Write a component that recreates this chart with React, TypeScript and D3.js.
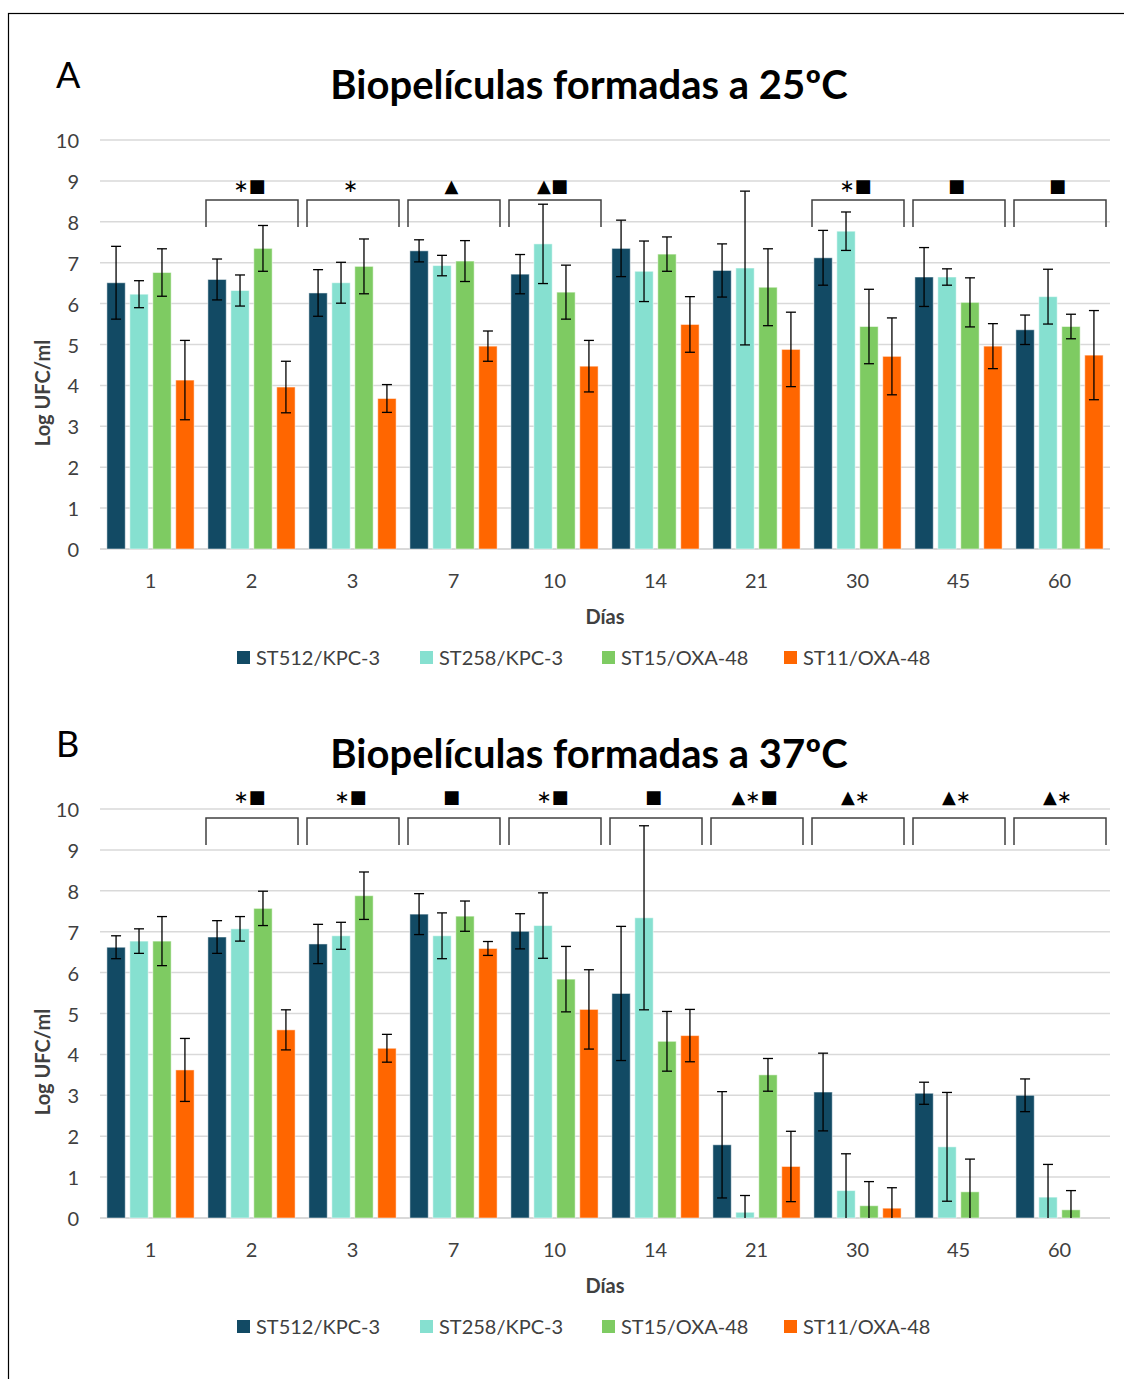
import React from "react";
import * as d3 from "d3";

const days = ["1", "2", "3", "7", "10", "14", "21", "30", "45", "60"];
const seriesNames = ["ST512/KPC-3", "ST258/KPC-3", "ST15/OXA-48", "ST11/OXA-48"];
const seriesColors = ["#124A64", "#86E0D0", "#7ECB62", "#FF6600"];
const yTicks = [0, 1, 2, 3, 4, 5, 6, 7, 8, 9, 10];

// Panel A (25ºC)
const a512 = [6.51, 6.59, 6.26, 7.29, 6.72, 7.35, 6.81, 7.12, 6.65, 5.36];
const a258 = [6.23, 6.32, 6.51, 6.93, 7.46, 6.79, 6.87, 7.77, 6.65, 6.17];
const a15 = [6.76, 7.35, 6.91, 7.04, 6.28, 7.21, 6.40, 5.44, 6.03, 5.44];
const a11 = [4.13, 3.96, 3.68, 4.96, 4.47, 5.49, 4.88, 4.71, 4.96, 4.74];
const aErr512 = [0.89, 0.5, 0.57, 0.27, 0.48, 0.69, 0.65, 0.67, 0.72, 0.36];
const aErr258 = [0.33, 0.38, 0.5, 0.25, 0.97, 0.74, 1.88, 0.47, 0.2, 0.67];
const aErr15 = [0.58, 0.56, 0.67, 0.5, 0.66, 0.42, 0.94, 0.91, 0.6, 0.3];
const aErr11 = [0.97, 0.63, 0.34, 0.37, 0.63, 0.68, 0.91, 0.94, 0.55, 1.09];
const aMarks = ["", "∗■", "∗", "▲", "▲■", "", "", "∗■", "■", "■"];

// Panel B (37ºC)
const b512 = [6.62, 6.87, 6.70, 7.43, 7.01, 5.49, 1.79, 3.08, 3.05, 3.00];
const b258 = [6.77, 7.07, 6.90, 6.90, 7.15, 7.34, 0.14, 0.67, 1.74, 0.51];
const b15 = [6.77, 7.57, 7.88, 7.38, 5.84, 4.32, 3.50, 0.30, 0.64, 0.20];
const b11 = [3.62, 4.60, 4.15, 6.59, 5.10, 4.46, 1.26, 0.24, 0, 0];
const bErr512 = [0.28, 0.4, 0.48, 0.5, 0.43, 1.64, 1.3, 0.95, 0.27, 0.4];
const bErr258 = [0.3, 0.3, 0.33, 0.56, 0.8, 2.25, 0.41, 0.9, 1.33, 0.8];
const bErr15 = [0.6, 0.42, 0.58, 0.37, 0.8, 0.73, 0.4, 0.59, 0.8, 0.47];
const bErr11 = [0.77, 0.49, 0.34, 0.17, 0.97, 0.64, 0.86, 0.5, 0, 0];
const bMarks = ["", "∗■", "∗■", "■", "∗■", "■", "▲∗■", "▲∗", "▲∗", "▲∗"];

const FONT = "Lato, 'Open Sans', sans-serif";
const TXT = "#404040";

type PanelProps = {
  dy: number;
  letter: string;
  title: string;
  values: number[][];
  errs: number[][];
  marks: string[];
  bracketTop: number;
  markY: number;
};

function Panel({ dy, letter, title, values, errs, marks, bracketTop, markY }: PanelProps) {
  const x0 = d3.scaleBand<string>().domain(days).range([100, 1110]);
  const x1 = d3
    .scaleBand<string>()
    .domain(seriesNames)
    .range([0, x0.bandwidth()])
    .paddingInner(0.2)
    .paddingOuter(0.3);
  const y = d3.scaleLinear().domain([0, 10]).range([549, 140]);
  const legendX = [237, 420, 602, 784];

  return (
    <g transform={`translate(0,${dy})`}>
      <text x={56} y={88} fontFamily={FONT} fontSize={36} fill="#000">
        {letter}
      </text>
      <text x={589} y={99} textAnchor="middle" fontFamily={FONT} fontWeight="bold" fontSize={40} fill="#000">
        {title}
      </text>
      {yTicks.map((t) => (
        <g key={t}>
          <line x1={100} x2={1110} y1={y(t)} y2={y(t)} stroke="#D9D9D9" strokeWidth={t === 0 ? 2 : 1.5} />
          <text x={79} y={y(t)} textAnchor="end" dominantBaseline="central" fontFamily={FONT} fontSize={20} fill={TXT}>
            {t}
          </text>
        </g>
      ))}
      {days.map((d, i) => (
        <g key={d}>
          {seriesNames.map((s, j) => {
            const v = values[j][i];
            const e = errs[j][i];
            const bx = (x0(d) as number) + (x1(s) as number);
            const bw = x1.bandwidth();
            const cx = bx + bw / 2;
            return (
              <g key={s}>
                {v > 0 && (
                  <rect
                    x={bx}
                    y={y(v)}
                    width={bw}
                    height={y(0) - y(v)}
                    fill={seriesColors[j]}
                    stroke="#fff"
                    strokeOpacity={0.5}
                    strokeWidth={1}
                  />
                )}
                {e > 0 && (
                  <g stroke="#000" strokeWidth={1.3}>
                    <line x1={cx} x2={cx} y1={y(v + e)} y2={y(Math.max(0, v - e))} />
                    <line x1={cx - 5} x2={cx + 5} y1={y(v + e)} y2={y(v + e)} />
                    {v - e > 0 && <line x1={cx - 5} x2={cx + 5} y1={y(v - e)} y2={y(v - e)} />}
                  </g>
                )}
              </g>
            );
          })}
          <text
            x={(x0(d) as number) + x0.bandwidth() / 2}
            y={580}
            textAnchor="middle"
            dominantBaseline="central"
            fontFamily={FONT}
            fontSize={20}
            fill={TXT}
          >
            {d}
          </text>
          {marks[i] && (
            <g>
              <path
                d={`M${(x0(d) as number) + 5},${bracketTop + 27}V${bracketTop}H${(x0(d) as number) + x0.bandwidth() - 4}V${bracketTop + 27}`}
                fill="none"
                stroke="#404040"
                strokeWidth={1.5}
              />
              <text
                x={(x0(d) as number) + x0.bandwidth() / 2 - 2}
                y={markY}
                textAnchor="middle"
                dominantBaseline="central"
                fontFamily="'DejaVu Sans', sans-serif"
                fontSize={18}
                fill="#000"
              >
                {marks[i]}
              </text>
            </g>
          )}
        </g>
      ))}
      <text x={605} y={616} textAnchor="middle" dominantBaseline="central" fontFamily={FONT} fontWeight="bold" fontSize={20} fill={TXT}>
        Días
      </text>
      <text
        transform={`translate(42,393) rotate(-90)`}
        textAnchor="middle"
        dominantBaseline="central"
        fontFamily={FONT}
        fontWeight="bold"
        fontSize={20}
        fill={TXT}
      >
        Log UFC/ml
      </text>
      {seriesNames.map((s, j) => (
        <g key={s}>
          <rect x={legendX[j]} y={651} width={13} height={13} fill={seriesColors[j]} />
          <text x={legendX[j] + 19} y={657} dominantBaseline="central" fontFamily={FONT} fontSize={20} fill={TXT}>
            {s}
          </text>
        </g>
      ))}
    </g>
  );
}

export default function App() {
  return (
    <svg
      width={1124}
      height={1379}
      style={{ position: "absolute", left: 0, top: 0, background: "#fff" }}
    >
      <rect x={0} y={0} width={1124} height={1379} fill="#fff" />
      <rect x={8.5} y={13.5} width={1140} height={1400} fill="none" stroke="#000" strokeWidth={1.2} />
      <Panel
        dy={0}
        letter="A"
        title="Biopelículas formadas a 25ºC"
        values={[a512, a258, a15, a11]}
        errs={[aErr512, aErr258, aErr15, aErr11]}
        marks={aMarks}
        bracketTop={200}
        markY={185}
      />
      <Panel
        dy={669}
        letter="B"
        title="Biopelículas formadas a 37ºC"
        values={[b512, b258, b15, b11]}
        errs={[bErr512, bErr258, bErr15, bErr11]}
        marks={bMarks}
        bracketTop={149}
        markY={127}
      />
    </svg>
  );
}
